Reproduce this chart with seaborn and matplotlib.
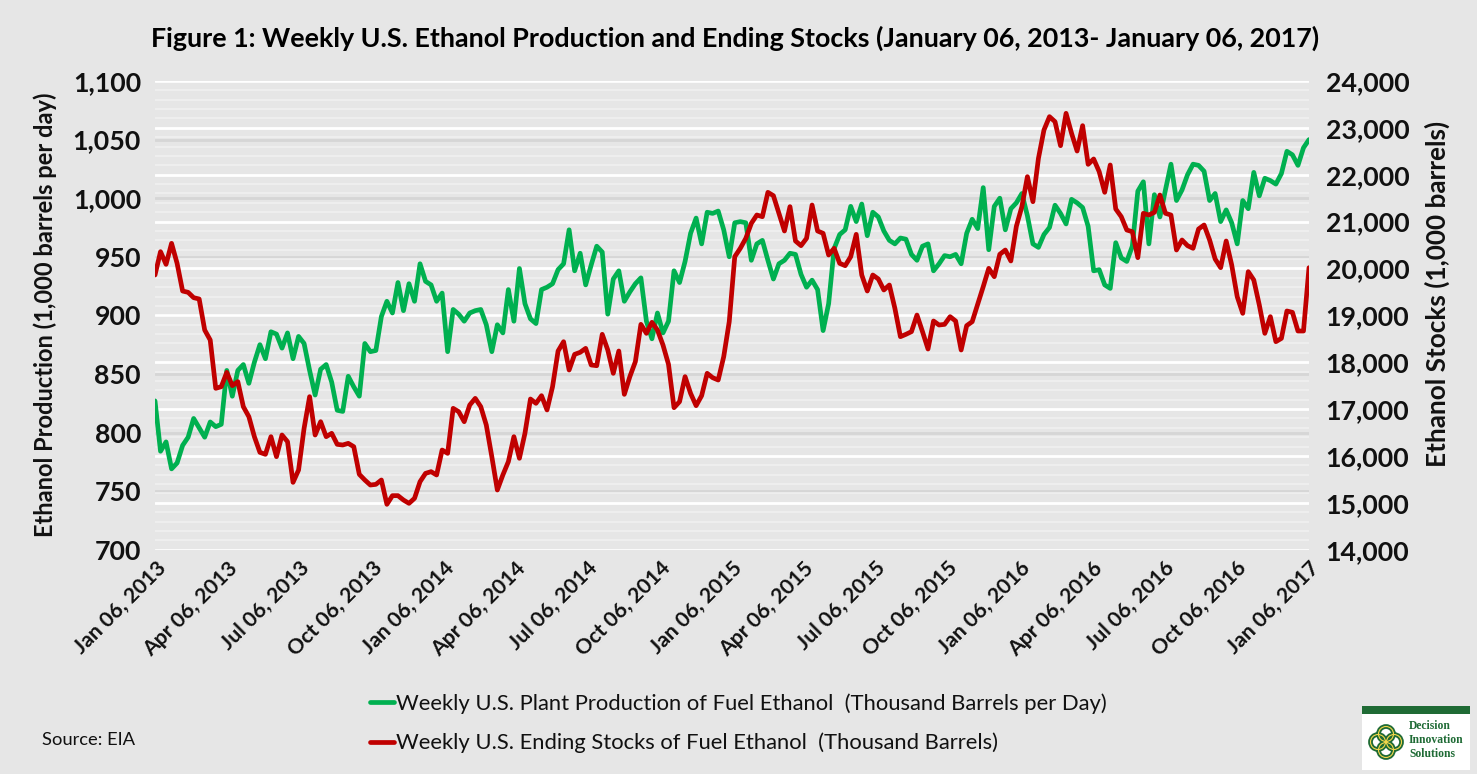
import matplotlib
matplotlib.use("Agg")
import matplotlib.pyplot as plt
import matplotlib.patches as mpatches
from matplotlib.ticker import MultipleLocator, FuncFormatter, FixedLocator
import seaborn as sns
import pandas as pd
import numpy as np
import matplotlib.dates as mdates

# ---------------- data ----------------
week_end = "2017-01-06"
n_weeks = 210

production = [
    827, 784, 792, 769, 774, 789, 796, 812, 804, 796,
    809, 805, 807, 853, 831, 853, 858, 842, 860, 875,
    863, 886, 884, 872, 885, 863, 882, 876, 853, 832,
    854, 858, 843, 819, 818, 848, 839, 831, 876, 869,
    870, 899, 912, 902, 928, 904, 927, 912, 944, 929,
    926, 912, 919, 869, 905, 901, 895, 902, 904, 905,
    892, 869, 892, 885, 922, 895, 940, 910, 897, 893,
    922, 924, 927, 939, 944, 973, 938, 953, 926, 943,
    959, 954, 901, 931, 938, 912, 920, 927, 932, 895,
    880, 902, 885, 895, 938, 928, 946, 970, 983, 961,
    988, 987, 989, 973, 950, 979, 980, 979, 947, 961,
    964, 947, 931, 944, 947, 953, 952, 935, 924, 930,
    922, 887, 910, 957, 969, 973, 993, 980, 995, 968,
    988, 984, 972, 964, 961, 966, 965, 952, 947, 959,
    961, 938, 944, 951, 950, 952, 944, 970, 982, 974,
    1009, 956, 993, 1000, 973, 991, 996, 1004, 985, 961,
    958, 969, 975, 994, 987, 978, 999, 996, 992, 976,
    938, 939, 926, 923, 962, 949, 946, 959, 1006, 1014,
    961, 1003, 984, 1007, 1029, 998, 1007, 1020, 1029, 1028,
    1023, 998, 1004, 980, 990, 979, 961, 998, 991, 1022,
    1002, 1017, 1015, 1012, 1021, 1040, 1037, 1028, 1043, 1050,
]

stocks = [
    19861, 20359, 20088, 20536, 20110, 19519, 19491, 19377, 19349, 18687,
    18474, 17443, 17478, 17784, 17500, 17585, 17051, 16838, 16411, 16077,
    16035, 16411, 15985, 16447, 16305, 15437, 15700, 16589, 17265, 16447,
    16731, 16411, 16483, 16248, 16234, 16269, 16198, 15608, 15487, 15380,
    15394, 15487, 14968, 15153, 15153, 15060, 14989, 15096, 15451, 15629,
    15665, 15594, 16127, 16056, 17016, 16945, 16731, 17087, 17229, 17051,
    16660, 15985, 15274, 15594, 15879, 16411, 15950, 16483, 17215, 17123,
    17286, 16981, 17478, 18239, 18438, 17834, 18168, 18211, 18296, 17941,
    17926, 18595, 18261, 17763, 18239, 17315, 17692, 18012, 18808, 18616,
    18851, 18687, 18367, 17955, 17030, 17158, 17692, 17336, 17073, 17286,
    17763, 17670, 17620, 18118, 18865, 20252, 20430, 20643, 20963, 21141,
    21105, 21625, 21553, 21177, 20800, 21319, 20586, 20487, 20643, 21354,
    20800, 20750, 20288, 20430, 20110, 20060, 20252, 20728, 19861, 19519,
    19861, 19776, 19541, 19647, 19149, 18545, 18595, 18652, 19007, 18652,
    18282, 18879, 18794, 18808, 18972, 18879, 18261, 18780, 18865, 19235,
    19612, 20003, 19825, 20302, 20394, 20160, 20900, 21320, 21959, 21425,
    22350, 22955, 23239, 23132, 22620, 23310, 22883, 22506, 23047, 22222,
    22336, 22066, 21625, 22208, 21269, 21105, 20821, 20785, 20231, 21177,
    21141, 21198, 21568, 21177, 21141, 20394, 20608, 20487, 20430, 20842,
    20928, 20608, 20202, 20017, 20586, 20074, 19398, 19043, 19932, 19754,
    19221, 18616, 18972, 18438, 18509, 19093, 19064, 18666, 18666, 20017,
]

title = "Figure 1: Weekly U.S. Ethanol Production and Ending Stocks (January 06, 2013- January 06, 2017)"
label_prod = "Weekly U.S. Plant Production of Fuel Ethanol  (Thousand Barrels per Day)"
label_stock = "Weekly U.S. Ending Stocks of Fuel Ethanol  (Thousand Barrels)"
ylabel_left = "Ethanol Production (1,000 barrels per day)"
ylabel_right = "Ethanol Stocks (1,000 barrels)"
source_text = "Source: EIA"
logo_text = "Decision\nInnovation\nSolutions"

dates = pd.date_range(end=week_end, periods=n_weeks, freq="7D")
df = pd.DataFrame({"date": dates, "production": production, "stocks": stocks})
tick_dates = pd.date_range("2013-01-06", "2017-01-06", freq=pd.DateOffset(months=3))

# ---------------- style ----------------
sns.set_style("white")
plt.rcParams["font.family"] = ["Lato", "DejaVu Sans"]

BG = "#E6E6E6"
GREEN = "#00B050"
RED = "#C00000"
TXT = "#111111"

W, H = 1477, 774
fig = plt.figure(figsize=(W / 100, H / 100), dpi=100, facecolor=BG)

x0, x1 = 155 / W, 1309 / W
y0, y1 = 1 - 549.7 / H, 1 - 81 / H
ax = fig.add_axes([x0, y0, x1 - x0, y1 - y0])
ax.set_facecolor(BG)
axr = ax.twinx()
axg = ax.twinx()
axs = ax.twinx()

# data layers (green below red)
sns.lineplot(data=df, x="date", y="production", ax=axg, color=GREEN,
             linewidth=3.4, label=label_prod, legend=False)
sns.lineplot(data=df, x="date", y="stocks", ax=axs, color=RED,
             linewidth=3.4, label=label_stock, legend=False)

ax.set_ylim(700, 1100)
axg.set_ylim(700, 1100)
axr.set_ylim(14000, 24000)
axs.set_ylim(14000, 24000)
ax.set_xlim(dates[0], dates[-1])

# grids
ax.yaxis.set_major_locator(MultipleLocator(50))
axr.yaxis.set_major_locator(MultipleLocator(1000))
axr.yaxis.set_minor_locator(MultipleLocator(200))
axr.grid(True, which="minor", axis="y", color="#F0F0F0", linewidth=1.2)
axr.grid(True, which="major", axis="y", color="#FFFFFF", linewidth=2.0)
ax.grid(True, which="major", axis="y", color="#D6D6D6", linewidth=2.0)
ax.grid(False, axis="x")
axr.grid(False, axis="x")

for a in (axg, axs):
    a.yaxis.set_visible(False)
    a.xaxis.set_visible(False)
    a.patch.set_visible(False)
    a.set_xlabel("")
    a.set_ylabel("")
for a in (ax, axr, axg, axs):
    for s in a.spines.values():
        s.set_visible(False)

# y ticks
fmt = FuncFormatter(lambda v, p: f"{int(round(v)):,}")
ax.yaxis.set_major_formatter(fmt)
axr.yaxis.set_major_formatter(fmt)
ax.tick_params(axis="y", length=0, pad=10, labelsize=19.3)
axr.tick_params(axis="y", which="both", length=0, pad=12, labelsize=19.3)
for lab in ax.get_yticklabels() + axr.get_yticklabels():
    lab.set_fontweight("bold")
    lab.set_color(TXT)

# x ticks
ax.xaxis.set_major_locator(FixedLocator(mdates.date2num(tick_dates.to_pydatetime())))
ax.xaxis.set_major_formatter(mdates.DateFormatter("%b %d, %Y"))
ax.tick_params(axis="x", length=0, pad=6, labelsize=15.3)
for lab in ax.get_xticklabels():
    lab.set_rotation(45)
    lab.set_ha("right")
    lab.set_rotation_mode("anchor")
    lab.set_fontweight("bold")
    lab.set_color(TXT)
axr.xaxis.set_visible(False)

ax.set_xlabel("")
ax.set_ylabel("")
axr.set_ylabel("")
fig.text(45 / W, 1 - 315 / H, ylabel_left, rotation=90, ha="center", va="center",
         fontsize=17, fontweight="bold", color=TXT)
fig.text(1437 / W, 1 - 294 / H, ylabel_right, rotation=90, ha="center", va="center",
         fontsize=18.8, fontweight="bold", color=TXT)

# title
fig.text(735 / W, 1 - 38 / H, title, ha="center", va="center",
         fontsize=19.4, fontweight="bold", color="#000000")

# legend
handles = [axg.get_lines()[0], axs.get_lines()[0]]
leg = fig.legend(handles, [label_prod, label_stock], loc="upper left",
                 bbox_to_anchor=(370 / W, 1 - 693 / H), frameon=False,
                 fontsize=15.8, handlelength=1.1, handletextpad=0.1,
                 labelspacing=0.88, borderpad=0, borderaxespad=0)
for t in leg.get_texts():
    t.set_color(TXT)

# source
fig.text(42 / W, 1 - 740 / H, source_text, ha="left", va="center",
         fontsize=13.2, color=TXT)

# logo
DKG = "#1F6B35"
fig.patches.append(mpatches.Rectangle((1362 / W, 1 - 770 / H), 108 / W, 64 / H,
                                      transform=fig.transFigure, facecolor="white",
                                      edgecolor="none", zorder=5))
fig.patches.append(mpatches.Rectangle((1362 / W, 1 - 714 / H), 108 / W, 8 / H,
                                      transform=fig.transFigure, facecolor=DKG,
                                      edgecolor="none", zorder=6))
cx, cy = 1386, 742
for dx, dy in [(0, -8), (8, 0), (0, 8), (-8, 0)]:
    fig.patches.append(mpatches.Ellipse(
        ((cx + dx) / W, 1 - (cy + dy) / H), 15 / W, 15 / H,
        transform=fig.transFigure, facecolor="none", edgecolor=DKG,
        linewidth=3.4, zorder=7))
    fig.patches.append(mpatches.Ellipse(
        ((cx + dx) / W, 1 - (cy + dy) / H), 15 / W, 15 / H,
        transform=fig.transFigure, facecolor="none", edgecolor="#F2D64B",
        linewidth=0.8, zorder=8))
fig.text(1409 / W, 1 - 740 / H, logo_text, ha="left", va="center",
         fontsize=8.4, fontweight="bold", color=DKG, linespacing=1.2,
         family=["Liberation Serif", "DejaVu Serif"], zorder=9)

fig.savefig("out.png", dpi=100, facecolor=BG)
